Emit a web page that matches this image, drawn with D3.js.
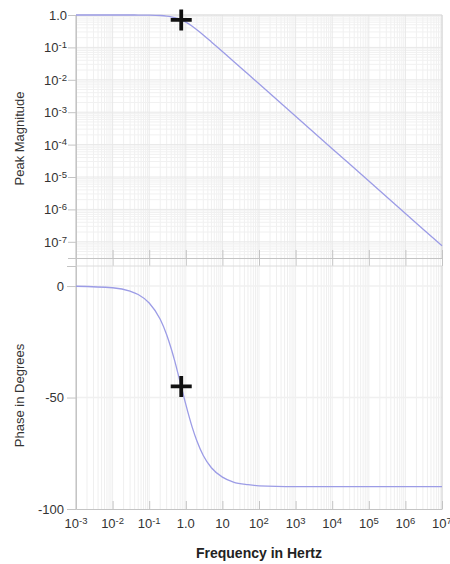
<!DOCTYPE html>
<html>
<head>
<meta charset="utf-8">
<script src="https://cdn.jsdelivr.net/npm/d3@7"></script>
<style>
  html, body { margin: 0; padding: 0; background: #fff; }
  svg { display: block; font-family: "Liberation Sans", Arial, sans-serif; }
</style>
</head>
<body>
<svg id="chart" width="450" height="564"></svg>
<script>
// Frequency response of a first-order low-pass stage
const freq      = [0.001, 0.01, 0.03, 0.05, 0.1, 0.2, 0.3, 0.4, 0.5, 0.6, 0.75, 1, 1.5, 2, 3, 5, 10, 20, 50, 100, 1e3, 1e4, 1e5, 1e6, 1e7];
const magnitude = [1.0, 0.9999, 0.9992, 0.9978, 0.991, 0.966, 0.928, 0.882, 0.832, 0.781, 0.707, 0.600, 0.447, 0.351, 0.243, 0.148, 0.0748, 0.0375, 0.015, 0.0075, 7.5e-4, 7.5e-5, 7.5e-6, 7.5e-7, 7.5e-8];
const phase     = [-0.08, -0.76, -2.3, -3.8, -7.6, -14.9, -21.8, -28.1, -33.7, -38.7, -45, -53.1, -63.4, -69.4, -76.0, -81.5, -85.7, -87.9, -89.1, -89.6, -89.96, -90, -90, -90, -90];

// Corner point (-3 dB, -45°)
const cornerFreq = [0.75];
const cornerMag = [0.707];
const cornerPhase = [-45];

// Axis ticks: [mantissa text, superscript]
const freqTicks  = [1e-3, 1e-2, 1e-1, 1, 10, 1e2, 1e3, 1e4, 1e5, 1e6, 1e7];
const freqLabels = [["10","-3"],["10","-2"],["10","-1"],["1.0",""],["10",""],["10","2"],["10","3"],["10","4"],["10","5"],["10","6"],["10","7"]];
const magTicks   = [1, 1e-1, 1e-2, 1e-3, 1e-4, 1e-5, 1e-6, 1e-7];
const magLabels  = [["1.0",""],["10","-1"],["10","-2"],["10","-3"],["10","-4"],["10","-5"],["10","-6"],["10","-7"]];
const phaseTicks = [0, -50, -100];
const phaseLabels = ["0", "-50", "-100"];

const svg = d3.select("#chart");
const left = 76, right = 442;
const magTop = 15, magBottom = 258;
const phTop = 266, phBottom = 509;

const x = d3.scaleLog().domain([1e-3, 1e7]).range([left, right]);
const yMag = d3.scaleLog().domain([Math.pow(10, -7.5), 1]).range([magBottom, magTop]);
const yPh = d3.scaleLinear().domain([-100, 9]).range([phBottom, phTop]);

// minor log positions within each decade
function logMinor(lo, hi) {
  const out = [];
  for (let e = lo; e < hi; e++) {
    for (let m = 2; m <= 9; m++) out.push(m * Math.pow(10, e));
  }
  return out;
}
const xMinor = logMinor(-3, 7);
const yMinor = logMinor(-8, 0).filter(v => v >= yMag.domain()[0]);

const textColor = "#333";
const axisColor = "#c4c4c4";

// ---------- magnitude panel ----------
const gMag = svg.append("g");
gMag.append("g").selectAll("line").data(xMinor).join("line")
  .attr("x1", d => x(d)).attr("x2", d => x(d))
  .attr("y1", magTop).attr("y2", phTop)
  .attr("stroke", "#f0f0f0").attr("stroke-width", 1);
gMag.append("g").selectAll("line").data(yMinor).join("line")
  .attr("x1", left).attr("x2", right)
  .attr("y1", d => yMag(d)).attr("y2", d => yMag(d))
  .attr("stroke", "#f1f1f1").attr("stroke-width", 1);
gMag.append("g").selectAll("line").data(freqTicks).join("line")
  .attr("x1", d => x(d)).attr("x2", d => x(d))
  .attr("y1", magTop).attr("y2", magBottom)
  .attr("stroke", "#e8e8e8").attr("stroke-width", 1);
gMag.append("g").selectAll("line").data(magTicks).join("line")
  .attr("x1", left).attr("x2", right)
  .attr("y1", d => yMag(d)).attr("y2", d => yMag(d))
  .attr("stroke", "#e8e8e8").attr("stroke-width", 1);

// frame
gMag.append("line").attr("x1", left).attr("x2", right).attr("y1", magTop).attr("y2", magTop)
  .attr("stroke", "#dcdcdc");
gMag.append("line").attr("x1", right).attr("x2", right).attr("y1", magTop).attr("y2", magBottom)
  .attr("stroke", "#d2d2d2");

// magnitude y axis
const magAxis = gMag.append("g").attr("transform", `translate(${left},0)`)
  .call(d3.axisLeft(yMag).tickValues(magTicks).tickSize(8).tickPadding(4).tickFormat(""));
// x axis at bottom of magnitude panel (ticks both sides)
const magXAxis = gMag.append("g").attr("transform", `translate(0,${magBottom})`)
  .call(d3.axisBottom(x).tickValues(freqTicks).tickSizeInner(8).tickSizeOuter(0).tickFormat(""));
magXAxis.selectAll(".tick line").attr("y1", -8);

// ---------- phase panel ----------
const gPh = svg.append("g");
gPh.append("g").selectAll("line").data(xMinor.concat(freqTicks)).join("line")
  .attr("x1", d => x(d)).attr("x2", d => x(d))
  .attr("y1", phTop).attr("y2", phBottom)
  .attr("stroke", "#efefef").attr("stroke-width", 1);
gPh.append("g").selectAll("line").data([0, -50]).join("line")
  .attr("x1", left).attr("x2", right)
  .attr("y1", d => yPh(d)).attr("y2", d => yPh(d))
  .attr("stroke", "#f0f0f0").attr("stroke-width", 1.5);
gPh.append("line").attr("x1", left).attr("x2", right).attr("y1", phTop).attr("y2", phTop)
  .attr("stroke", "#dcdcdc");
gPh.append("line").attr("x1", right).attr("x2", right).attr("y1", phTop).attr("y2", phBottom)
  .attr("stroke", "#d2d2d2");

const phAxis = gPh.append("g").attr("transform", `translate(${left},0)`)
  .call(d3.axisLeft(yPh).tickValues(phaseTicks).tickSize(9).tickPadding(3)
    .tickFormat((d, i) => phaseLabels[i]));
const phXAxis = gPh.append("g").attr("transform", `translate(0,${phBottom})`)
  .call(d3.axisBottom(x).tickValues(freqTicks).tickSizeInner(-8).tickSizeOuter(0).tickPadding(20).tickFormat(""));

// axis styling
[magAxis, magXAxis, phAxis, phXAxis].forEach(a => {
  a.select(".domain").attr("stroke", axisColor);
  a.selectAll(".tick line").attr("stroke", axisColor);
});
// extend left axis line across the gap between panels
svg.append("line").attr("x1", left).attr("x2", left).attr("y1", magTop).attr("y2", phBottom)
  .attr("stroke", axisColor);

phAxis.selectAll(".tick text")
  .attr("font-size", 13).attr("fill", textColor)
  .attr("font-family", "'Liberation Sans', Arial, sans-serif");

// tick label helper with superscripts
function powLabel(sel, parts, supSize) {
  sel.each(function(d, i) {
    const t = d3.select(this);
    const [base, sup] = parts[i];
    t.append("tspan").text(base);
    if (sup) t.append("tspan").attr("dy", "-0.45em").attr("font-size", supSize).text(sup);
  });
}

// magnitude labels
const magLabelG = svg.append("g");
magLabelG.selectAll("text").data(magTicks).join("text")
  .attr("x", 67).attr("y", d => yMag(d) + 5)
  .attr("text-anchor", "end").attr("font-size", 13).attr("fill", textColor)
  .call(powLabel, magLabels, 9.5);

// frequency labels
const freqLabelG = svg.append("g");
freqLabelG.selectAll("text").data(freqTicks).join("text")
  .attr("x", d => x(d)).attr("y", 528)
  .attr("text-anchor", "middle").attr("font-size", 13).attr("fill", textColor)
  .call(powLabel, freqLabels, 9.5);

// ---------- curves ----------
const pts = freq.map((f, i) => ({ f, m: magnitude[i], p: phase[i] }));
const curveColor = "#9c9ce6";

svg.append("path").datum(pts)
  .attr("fill", "none").attr("stroke", curveColor).attr("stroke-width", 1.3)
  .attr("d", d3.line().x(d => x(d.f)).y(d => yMag(d.m)).curve(d3.curveMonotoneX));

svg.append("path").datum(pts)
  .attr("fill", "none").attr("stroke", curveColor).attr("stroke-width", 1.3)
  .attr("d", d3.line().x(d => x(d.f)).y(d => yPh(d.p)).curve(d3.curveMonotoneX));

// corner markers
function plus(cx, cy) {
  const h = 10.5;
  return `M${cx - h},${cy}H${cx + h}M${cx},${cy - h}V${cy + h}`;
}
svg.append("g").selectAll("path").data(cornerFreq).join("path")
  .attr("d", (d, i) => plus(x(d), yMag(cornerMag[i])))
  .attr("stroke", "#111").attr("stroke-width", 3.8).attr("fill", "none");
svg.append("g").selectAll("path").data(cornerFreq).join("path")
  .attr("d", (d, i) => plus(x(d), yPh(cornerPhase[i])))
  .attr("stroke", "#111").attr("stroke-width", 3.8).attr("fill", "none");

// ---------- titles ----------
svg.append("text")
  .attr("transform", `translate(24,${(magTop + magBottom) / 2 + 2}) rotate(-90)`)
  .attr("text-anchor", "middle").attr("font-size", 13).attr("fill", textColor)
  .text("Peak Magnitude");
svg.append("text")
  .attr("transform", `translate(24,${(phTop + phBottom) / 2 + 8}) rotate(-90)`)
  .attr("text-anchor", "middle").attr("font-size", 13).attr("fill", textColor)
  .text("Phase in Degrees");
svg.append("text")
  .attr("x", (left + right) / 2).attr("y", 558)
  .attr("text-anchor", "middle").attr("font-size", 14).attr("font-weight", "bold").attr("fill", "#222")
  .text("Frequency in Hertz");
</script>
</body>
</html>
